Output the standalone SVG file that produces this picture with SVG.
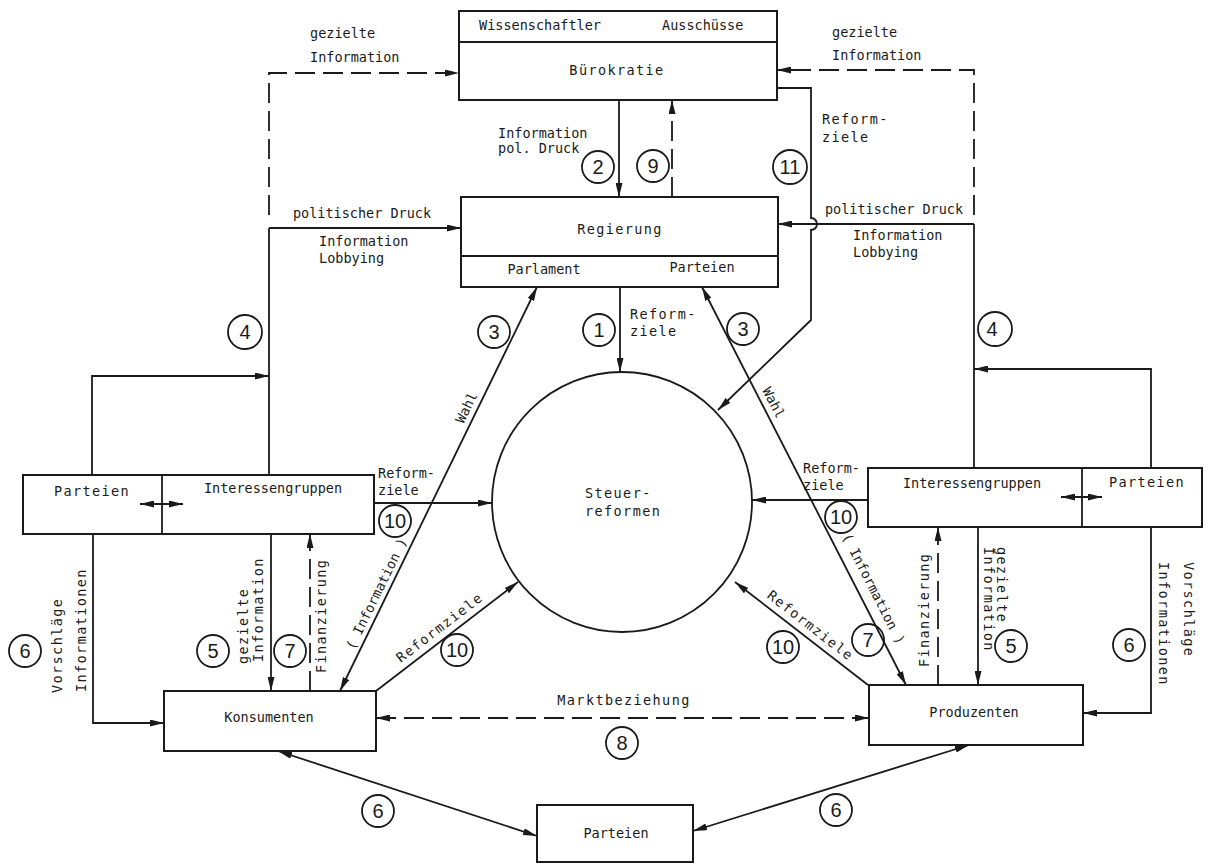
<svg xmlns="http://www.w3.org/2000/svg" width="1213" height="867" viewBox="0 0 1213 867">
<defs>
<style>
.box{fill:#fff;stroke:#1a1a1a;stroke-width:2}
.ln{fill:none;stroke:#1a1a1a;stroke-width:1.8}
.dash{stroke-dasharray:20 8}
.t{font-family:"DejaVu Sans Mono","Liberation Mono",monospace;font-size:13.5px;fill:#1a1a1a}
.sp{letter-spacing:1.4px}
.m{text-anchor:middle}
.nc{fill:none;stroke:#1a1a1a;stroke-width:1.8}
.nt{font-family:"Liberation Sans","DejaVu Sans",sans-serif;font-size:20px;fill:#1a1a1a;text-anchor:middle}
</style>
<marker id="ah" viewBox="0 0 14 7" refX="14" refY="3.5" markerWidth="14" markerHeight="7" markerUnits="userSpaceOnUse" orient="auto-start-reverse"><path d="M0,0 L14,3.5 L0,7 z" fill="#1a1a1a"/></marker>
</defs>
<rect width="1213" height="867" fill="#fff"/>

<g id="connectors">
<path class="ln" d="M619,100 L619,197" marker-end="url(#ah)"/>
<path class="ln dash" d="M672,197 L672,100" marker-end="url(#ah)"/>
<path class="ln" d="M620,287 L620,372" marker-end="url(#ah)"/>
<path class="ln" d="M340,691 L537,287" marker-start="url(#ah)" marker-end="url(#ah)"/>
<path class="ln" d="M906,685 L702,287" marker-start="url(#ah)" marker-end="url(#ah)"/>
<path class="ln" d="M777,88 L811,88 L811,218 A6,6 0 0 1 811,230 L811,320 L718,410" marker-end="url(#ah)"/>
<path class="ln dash" d="M269,215 L269,73 L459,73" marker-end="url(#ah)"/>
<path class="ln" d="M269,228 L461,228" marker-end="url(#ah)"/>
<path class="ln" d="M269,228 L269,475"/>
<path class="ln" d="M92,475 L92,376 L269,376" marker-end="url(#ah)"/>
<path class="ln dash" d="M974,215 L974,70 L777,70" marker-end="url(#ah)"/>
<path class="ln" d="M974,224 L778,224" marker-end="url(#ah)"/>
<path class="ln" d="M974,224 L974,468"/>
<path class="ln" d="M1151,468 L1151,369 L974,369" marker-end="url(#ah)"/>
<path class="ln" d="M374,503 L492,503" marker-end="url(#ah)"/>
<path class="ln" d="M868,500 L752,500" marker-end="url(#ah)"/>
<path class="ln" d="M93,534 L93,723 L164,723" marker-end="url(#ah)"/>
<path class="ln" d="M271,534 L271,691" marker-end="url(#ah)"/>
<path class="ln dash" d="M310,691 L310,534" marker-end="url(#ah)"/>
<path class="ln" d="M376,691 L518,582" marker-end="url(#ah)"/>
<path class="ln dash" d="M938,685 L938,527" marker-end="url(#ah)"/>
<path class="ln" d="M978,527 L978,685" marker-end="url(#ah)"/>
<path class="ln" d="M1151,527 L1151,713 L1083,713" marker-end="url(#ah)"/>
<path class="ln" d="M868,685 L735,582" marker-end="url(#ah)"/>
<path class="ln dash" d="M376,718 L869,718" marker-start="url(#ah)" marker-end="url(#ah)"/>
<path class="ln" d="M278,751 L537,836" marker-start="url(#ah)" marker-end="url(#ah)"/>
<path class="ln" d="M969,745 L693,831" marker-start="url(#ah)" marker-end="url(#ah)"/>
</g>

<g id="n-buerokratie">
<rect class="box" x="459" y="11" width="318" height="89"/>
<line class="ln" x1="459" y1="42" x2="777" y2="42"/>
<text class="t" x="479" y="30">Wissenschaftler</text>
<text class="t" x="662" y="30">Ausschüsse</text>
<text class="t sp m" x="617" y="75">Bürokratie</text>
</g>

<g id="n-regierung">
<rect class="box" x="461" y="197" width="317" height="90"/>
<line class="ln" x1="461" y1="256" x2="778" y2="256"/>
<text class="t sp m" x="620" y="234">Regierung</text>
<text class="t m" x="544" y="274">Parlament</text>
<text class="t m" x="702" y="272">Parteien</text>
</g>

<g id="n-steuerreformen">
<circle class="ln" cx="622" cy="502" r="130"/>
<text class="t sp" x="585" y="498">Steuer-</text>
<text class="t sp" x="585" y="516">reformen</text>
</g>

<g id="n-left-groups">
<rect class="box" x="23" y="475" width="351" height="59"/>
<line class="ln" x1="162" y1="475" x2="162" y2="534"/>
<text class="t sp m" x="92" y="496">Parteien</text>
<text class="t m" x="273" y="493">Interessengruppen</text>
<path class="ln" d="M140,504 L183,504" marker-start="url(#ah)" marker-end="url(#ah)"/>
</g>

<g id="n-right-groups">
<rect class="box" x="868" y="468" width="334" height="59"/>
<line class="ln" x1="1082" y1="468" x2="1082" y2="527"/>
<text class="t m" x="972" y="488">Interessengruppen</text>
<text class="t sp m" x="1147" y="487">Parteien</text>
<path class="ln" d="M1061,497 L1102,497" marker-start="url(#ah)" marker-end="url(#ah)"/>
</g>

<g id="n-konsumenten">
<rect class="box" x="164" y="691" width="212" height="60"/>
<text class="t m" x="269" y="722">Konsumenten</text>
</g>

<g id="n-produzenten">
<rect class="box" x="869" y="685" width="214" height="60"/>
<text class="t m" x="974" y="717">Produzenten</text>
</g>

<g id="n-parteien">
<rect class="box" x="537" y="805" width="156" height="57"/>
<text class="t m" x="616" y="838">Parteien</text>
</g>

<g id="labels">
<text class="t" x="310" y="38">gezielte</text>
<text class="t" x="310" y="62">Information</text>
<text class="t" x="832" y="37">gezielte</text>
<text class="t" x="832" y="60">Information</text>
<text class="t" x="498" y="138">Information</text>
<text class="t" x="498" y="153">pol. Druck</text>
<text class="t sp" x="822" y="124">Reform-</text>
<text class="t sp" x="822" y="142">ziele</text>
<text class="t m" x="362" y="218">politischer Druck</text>
<text class="t" x="319" y="246">Information</text>
<text class="t" x="319" y="263">Lobbying</text>
<text class="t m" x="894" y="214">politischer Druck</text>
<text class="t" x="853" y="240">Information</text>
<text class="t" x="853" y="257">Lobbying</text>
<text class="t sp" x="630" y="319">Reform-</text>
<text class="t sp" x="630" y="336">ziele</text>
<text class="t" x="378" y="478">Reform-</text>
<text class="t" x="378" y="495">ziele</text>
<text class="t" x="803" y="473">Reform-</text>
<text class="t" x="803" y="490">ziele</text>
<text class="t m" transform="translate(467,408) rotate(-64)" y="4">Wahl</text>
<text class="t m" transform="translate(773,403) rotate(63)" y="4">Wahl</text>
<text class="t m" transform="translate(377,594) rotate(-64)" y="4">( Information )</text>
<text class="t m" transform="translate(873,589) rotate(63)" y="4">( Information )</text>
<text class="t sp m" transform="translate(440,628) rotate(-37.5)" y="4">Reformziele</text>
<text class="t sp m" transform="translate(810,626) rotate(37.8)" y="4">Reformziele</text>
<text class="t sp" transform="translate(61.5,693) rotate(-90)">Vorschläge</text>
<text class="t sp" transform="translate(85.5,692) rotate(-90)">Informationen</text>
<text class="t sp" transform="translate(247.5,664) rotate(-90)">gezielte</text>
<text class="t sp" transform="translate(262.5,662) rotate(-90)">Information</text>
<text class="t sp" transform="translate(325.5,673) rotate(-90)">Finanzierung</text>
<text class="t sp" transform="translate(928.5,667) rotate(-90)">Finanzierung</text>
<text class="t sp" transform="translate(996.5,547) rotate(90)">gezielte</text>
<text class="t sp" transform="translate(983.5,547) rotate(90)">Information</text>
<text class="t sp" transform="translate(1183.5,562) rotate(90)">Vorschläge</text>
<text class="t sp" transform="translate(1158.5,562) rotate(90)">Informationen</text>
<text class="t sp m" x="624" y="705">Marktbeziehung</text>
</g>

<g id="numbers">
<circle class="nc" cx="598" cy="167" r="16"/><text class="nt" x="598" y="174">2</text>
<circle class="nc" cx="653" cy="166" r="16"/><text class="nt" x="653" y="173">9</text>
<circle class="nc" cx="790" cy="167" r="17"/><text class="nt" x="790" y="174">11</text>
<circle class="nc" cx="245" cy="332" r="17"/><text class="nt" x="245" y="339">4</text>
<circle class="nc" cx="995" cy="329" r="17"/><text class="nt" x="992" y="336">4</text>
<circle class="nc" cx="494" cy="332" r="16"/><text class="nt" x="494" y="339">3</text>
<circle class="nc" cx="599" cy="330" r="16"/><text class="nt" x="599" y="337">1</text>
<circle class="nc" cx="743" cy="329" r="16"/><text class="nt" x="743" y="336">3</text>
<circle class="nc" cx="395" cy="521" r="16"/><text class="nt" x="395" y="528">10</text>
<circle class="nc" cx="841" cy="517" r="16"/><text class="nt" x="841" y="524">10</text>
<circle class="nc" cx="25" cy="651" r="16"/><text class="nt" x="25" y="658">6</text>
<circle class="nc" cx="213" cy="651" r="16"/><text class="nt" x="213" y="658">5</text>
<circle class="nc" cx="290" cy="651" r="16"/><text class="nt" x="290" y="658">7</text>
<circle class="nc" cx="457" cy="650" r="16"/><text class="nt" x="457" y="657">10</text>
<circle class="nc" cx="783" cy="647" r="16"/><text class="nt" x="783" y="654">10</text>
<circle class="nc" cx="868" cy="640" r="16"/><text class="nt" x="868" y="647">7</text>
<circle class="nc" cx="1011" cy="646" r="16"/><text class="nt" x="1011" y="653">5</text>
<circle class="nc" cx="1129" cy="645" r="16"/><text class="nt" x="1129" y="652">6</text>
<circle class="nc" cx="622" cy="743" r="16"/><text class="nt" x="622" y="750">8</text>
<circle class="nc" cx="378" cy="811" r="16"/><text class="nt" x="378" y="818">6</text>
<circle class="nc" cx="836" cy="810" r="16"/><text class="nt" x="836" y="817">6</text>
</g>
</svg>
